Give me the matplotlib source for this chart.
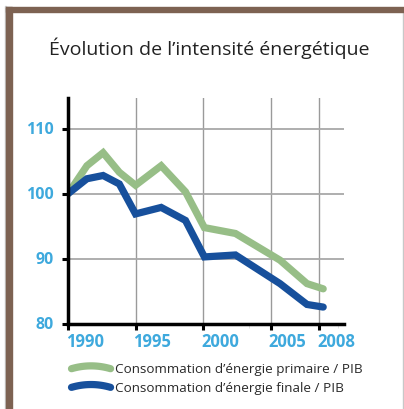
import matplotlib
matplotlib.use("Agg")
import matplotlib.pyplot as plt
import numpy as np
from matplotlib.lines import Line2D
from matplotlib.patches import Rectangle
from matplotlib.ticker import FixedLocator
from matplotlib.transforms import ScaledTranslation

plt.rcParams['font.family'] = ['Open Sans', 'DejaVu Sans']

# values (x in chart year positions)
years = [1990, 1991.4, 1992.6, 1993.8, 1995.0, 1996.9, 1998.7, 2000.1, 2002.4, 2005.7, 2007.7, 2008.9]
primaire = [100.0, 104.3, 106.3, 103.3, 101.3, 104.3, 100.3, 94.8, 93.9, 89.8, 86.2, 85.4]
years_f = [1990, 1991.4, 1992.6, 1993.8, 1995.0, 1996.9, 1998.7, 2000.1, 2002.4, 2005.7, 2007.7, 2008.9]
finale = [100.0, 102.3, 102.8, 101.5, 96.9, 97.9, 95.9, 90.3, 90.6, 86.2, 83.0, 82.6]

xtick_pos = [1990, 1995, 2000, 2005, 2008.6]
xtick_labels = ['1990', '1995', '2000', '2005', '2008']
yticks = [80, 90, 100, 110]

green = '#97be87'
blue = '#17509c'
tick_blue = '#3ea9dd'
brown = '#7d6252'

fig = plt.figure(figsize=(4.04, 4.10), dpi=100)
W, H = 404, 410

# brown frame top and left + thin gray outline
fig.patches.append(Rectangle((5 / W, 0), 0.5 / W, 1 - 7 / H, transform=fig.transFigure,
                             color='#c8c8c8', zorder=0))
fig.patches.append(Rectangle((6 / W, 0), 6 / W, 1 - 7.5 / H, transform=fig.transFigure,
                             color=brown, zorder=1))
fig.patches.append(Rectangle((6 / W, 1 - 13 / H), 1, 5.5 / H, transform=fig.transFigure,
                             color=brown, zorder=1))
fig.patches.append(Rectangle((402.5 / W, 0), 1 / W, 1 - 13 / H, transform=fig.transFigure,
                             color='#c8c8c8', zorder=0))

fig.text(209 / W, 1 - 48 / H, 'Évolution de l’intensité énergétique', ha='center', va='center',
         fontsize=14, color='#222222')

ax = fig.add_axes([68 / W, 1 - 325 / H, (344 - 68) / W, (325 - 99) / H])
ax.plot(years, primaire, color=green, lw=5.2, solid_capstyle='round', solid_joinstyle='miter', zorder=3)
ax.plot(years_f, finale, color=blue, lw=5.2, solid_capstyle='round', solid_joinstyle='miter', zorder=4)

ax.set_xlim(1990, 2010.44)
ax.set_ylim(80, 114.7)

ax.set_xticks(xtick_pos)
ax.set_xticklabels(xtick_labels)
ax.set_yticks(yticks)
ax.xaxis.set_minor_locator(FixedLocator([2003.4, 2010.0]))

for s in ['top', 'right']:
    ax.spines[s].set_visible(False)
for s in ['left', 'bottom']:
    ax.spines[s].set_linewidth(2.5)
    ax.spines[s].set_color('black')
    ax.spines[s].set_zorder(5)

ax.tick_params(axis='both', which='major', length=4, width=2.2, color='black',
               labelcolor=tick_blue)
ax.tick_params(axis='x', labelsize=12, pad=2)
ax.tick_params(axis='y', labelsize=11.5, pad=6)
ax.tick_params(axis='x', which='minor', length=3, width=0.6, color='#dddddd')
for lab in ax.get_xticklabels():
    lab.set_fontweight('bold')
    lab.set_horizontalalignment('left')
    lab.set_transform(lab.get_transform() + ScaledTranslation(-2 / 100, 0, fig.dpi_scale_trans))
for lab in ax.get_yticklabels():
    lab.set_fontweight('bold')
    lab.set_transform(lab.get_transform() + ScaledTranslation(0, 2 / 100, fig.dpi_scale_trans))

# grid, skipping the axis lines themselves
for x in xtick_pos[1:]:
    ax.axvline(x, color='#9a9a9a', lw=1, zorder=1)
for y in yticks[1:]:
    ax.axhline(y, color='#a8a8a8', lw=1.3, zorder=1)


class ArcHandler:
    def __init__(self, color):
        self.color = color

    def legend_artist(self, legend, orig_handle, fontsize, handlebox):
        x0, y0 = -handlebox.xdescent, -handlebox.ydescent
        w, h = handlebox.width, handlebox.height
        t = np.linspace(0, 1, 20)
        xs = x0 + w * t
        ys = y0 + h * (0.35 + 0.3 * (1 - (2 * t - 1) ** 2))
        line = Line2D(xs, ys, color=self.color, lw=5.2, solid_capstyle='round',
                      transform=handlebox.get_transform())
        handlebox.add_artist(line)
        return line


h1 = Line2D([], [], color=green)
h2 = Line2D([], [], color=blue)
leg = fig.legend([h1, h2], ['Consommation d’énergie primaire / PIB', 'Consommation d’énergie finale / PIB'],
                 handler_map={h1: ArcHandler(green), h2: ArcHandler(blue)},
                 loc='upper left', bbox_to_anchor=(71.5 / W, 1 - 363 / H), frameon=False,
                 fontsize=9.7, handlelength=2.9, handletextpad=0.35, labelspacing=0.42,
                 borderpad=0, borderaxespad=0)
for t in leg.get_texts():
    t.set_color('#2a2a2a')

fig.savefig('out.png', dpi=100)
